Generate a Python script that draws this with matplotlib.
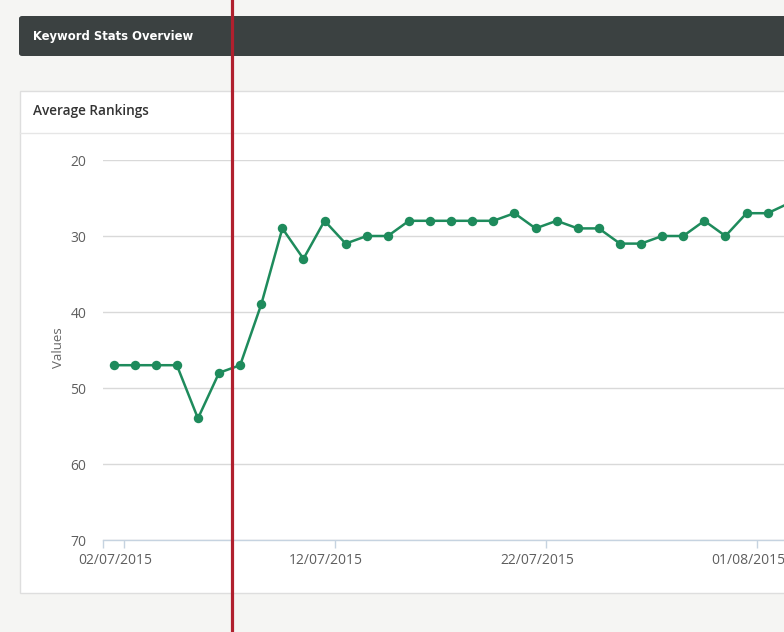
import matplotlib
matplotlib.use("Agg")
import matplotlib.pyplot as plt
import matplotlib.dates as mdates
from matplotlib.patches import Rectangle, FancyBboxPatch
from matplotlib.lines import Line2D
from matplotlib.transforms import ScaledTranslation
import datetime as dt

# ---- data ----
start_date = dt.datetime(2015, 7, 1, 12, 0)
values = [47, 47, 47, 47, 54, 48, 47, 39, 29, 33, 28, 31, 30, 30, 28, 28, 28,
          28, 28, 27, 29, 28, 29, 29, 31, 31, 30, 30, 28, 30, 27, 27, 25.7]
dates = [start_date + dt.timedelta(days=i) for i in range(len(values))]
tick_dates = [dt.datetime(2015, 7, 2), dt.datetime(2015, 7, 12),
              dt.datetime(2015, 7, 22), dt.datetime(2015, 8, 1)]
y_ticks = [20, 30, 40, 50, 60, 70]

W, H = 784, 632
fig = plt.figure(figsize=(W / 100, H / 100), dpi=100)
fig.patch.set_facecolor("#f5f5f3")


def fx(px):
    return px / W


def fy(py):
    return 1 - py / H


# header bar
fig.patches.append(FancyBboxPatch((fx(19), fy(56)), fx(900 - 19), (56 - 16) / H,
                                  boxstyle="round,pad=0,rounding_size=0.004",
                                  transform=fig.transFigure, facecolor="#3b4141",
                                  edgecolor="none", zorder=-2))
fig.text(fx(33), fy(36.5), "Keyword Stats Overview", color="white", fontsize=9.3,
         fontweight="bold", fontstretch="condensed", family="DejaVu Sans",
         va="center", ha="left")

# panel
fig.patches.append(Rectangle((fx(19.5), fy(592.5)), fx(900), (592.5 - 90.5) / H,
                             transform=fig.transFigure, facecolor="white",
                             edgecolor="#dedede", linewidth=1, zorder=-2))
fig.lines.append(Line2D([fx(20), fx(900)], [fy(132.5), fy(132.5)],
                        transform=fig.transFigure, color="#e6e6e6", linewidth=1,
                        zorder=-1))
fig.text(fx(33), fy(111), "Average Rankings", color="#333333", fontsize=9.8,
         fontweight="semibold", family="Open Sans", va="center", ha="left")

# axes
ax_left, ax_right, ax_top, ax_bottom = 103, 1000, 160, 540
ax = fig.add_axes([fx(ax_left), fy(ax_bottom), fx(ax_right - ax_left),
                   (ax_bottom - ax_top) / H])
ax.set_zorder(1)
ax.set_facecolor("none")
px_per_day = 21.1
x0 = dt.datetime(2015, 7, 1)
x1 = x0 + dt.timedelta(days=(ax_right - ax_left) / px_per_day)
ax.set_xlim(x0, x1)
ax.set_ylim(70, 20)

ax.plot(dates, values, color="#1e8b5c", linewidth=1.8, marker="o",
        markersize=6.8, markeredgewidth=0, zorder=3, clip_on=True)

ax.set_yticks(y_ticks)
ax.set_yticklabels([str(v) for v in y_ticks])
ax.yaxis.grid(True, color="#d9d9d9", linewidth=1)
ax.xaxis.grid(False)
ax.set_axisbelow(True)
ax.tick_params(axis="y", length=0, pad=12, labelsize=10, labelcolor="#5e5e5e")
for s in ["top", "right", "left"]:
    ax.spines[s].set_visible(False)
ax.spines["bottom"].set_color("#c6d3e0")
ax.spines["bottom"].set_linewidth(1)
ax.spines["bottom"].set_zorder(2)

ax.set_xticks(tick_dates)
ax.xaxis.set_major_formatter(mdates.DateFormatter("%d/%m/%Y"))
ax.set_xticks([x0], minor=True)
ax.tick_params(axis="x", which="both", length=6, color="#c6d3e0", width=1,
               direction="out", pad=3, labelsize=10, labelcolor="#5e5e5e")
offset = ScaledTranslation(-9 / 100, 0, fig.dpi_scale_trans)
for lab in ax.get_xticklabels():
    lab.set_transform(lab.get_transform() + offset)
for lab in ax.get_xticklabels() + ax.get_yticklabels():
    lab.set_family("Open Sans")

fig.text(fx(58), fy(348), "Values", rotation=90, color="#666666", fontsize=9.5,
         family="Open Sans", va="center", ha="center")

# red vertical marker line
fig.lines.append(Line2D([fx(232), fx(232)], [0, 1], transform=fig.transFigure,
                        color="#b0202e", linewidth=2.3, zorder=10))

fig.savefig("out.png", dpi=100)
